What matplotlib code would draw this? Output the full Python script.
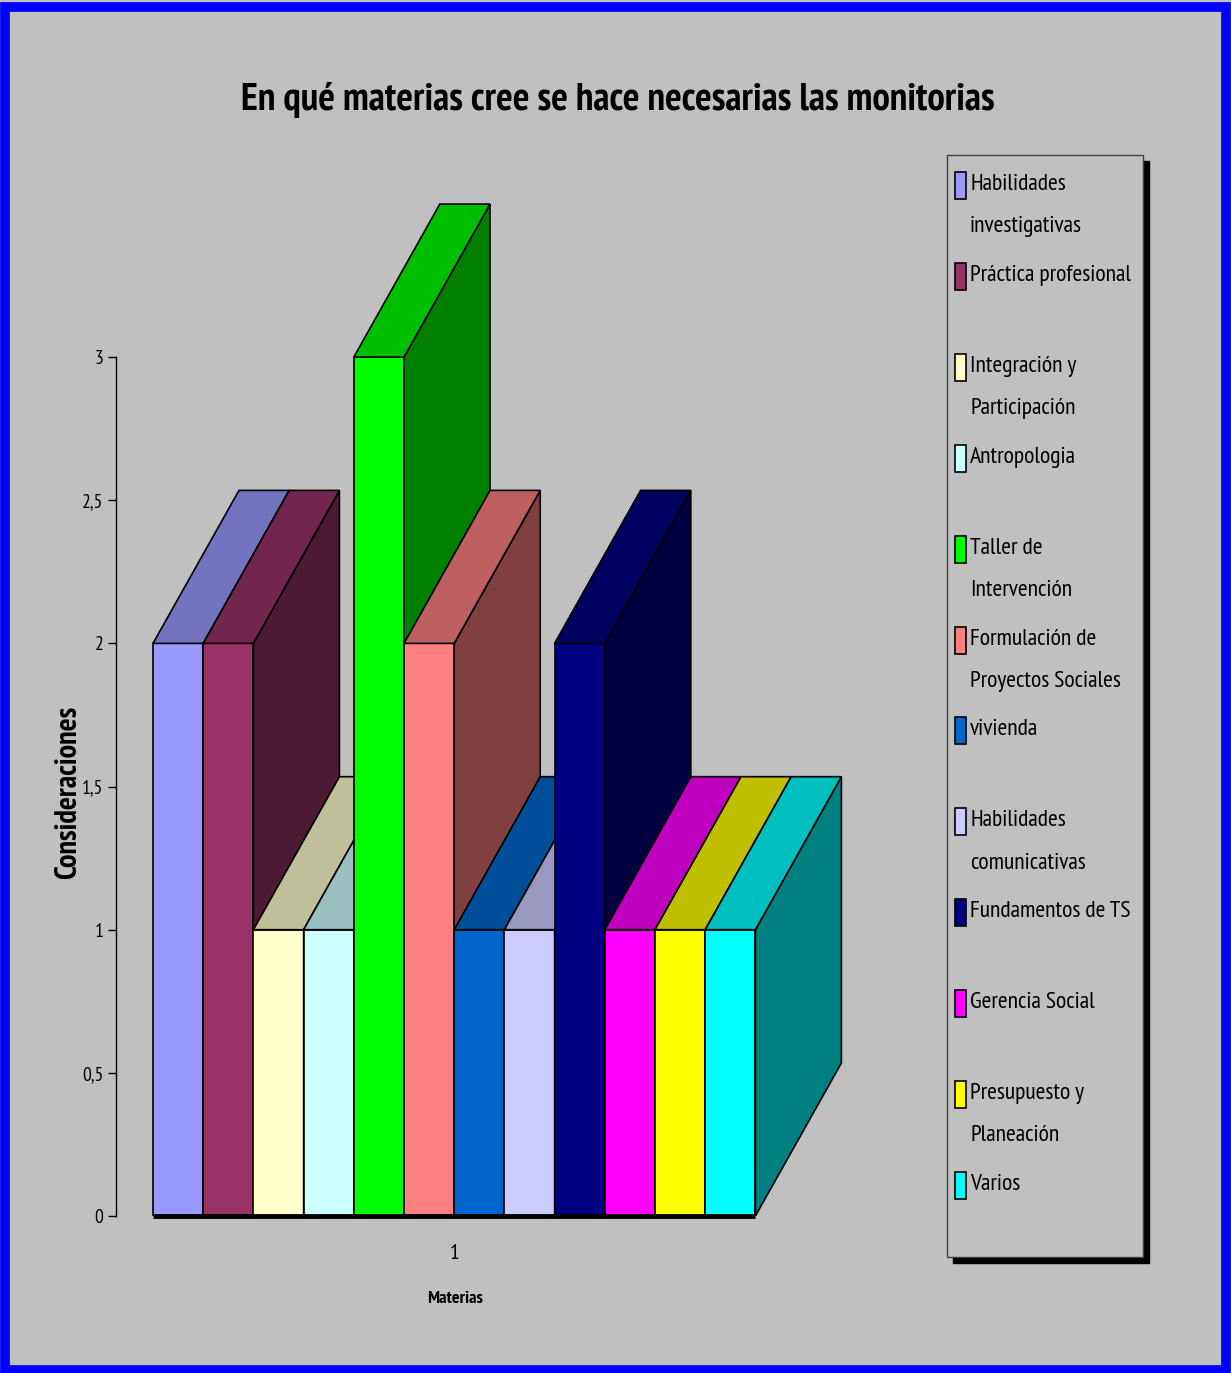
import matplotlib.pyplot as plt
from matplotlib import font_manager
from matplotlib.patches import Polygon, Rectangle
import matplotlib.colors as mcolors

# ---------------------------------------------------
# DATA
# ---------------------------------------------------

materias = [
    "Habilidades\ninvestigativas",
    "Práctica profesional",
    "Integración y\nParticipación",
    "Antropologia",
    "Taller de\nIntervención",
    "Formulación de\nProyectos Sociales",
    "vivienda",
    "Habilidades\ncomunicativas",
    "Fundamentos de TS",
    "Gerencia Social",
    "Presupuesto y\nPlaneación",
    "Varios",
]

valores = [2, 2, 1, 1, 3, 2, 1, 1, 2, 1, 1, 1]

colores = [
    "#9999FF", "#993366", "#FFFFCC", "#CCFFFF",
    "#00FF00", "#FF8080", "#0066CC", "#CCCCFF",
    "#000080", "#FF00FF", "#FFFF00", "#00FFFF",
]

y_ticks = [0, 0.5, 1, 1.5, 2, 2.5, 3]
y_tick_labels = ["0", "0,5", "1", "1,5", "2", "2,5", "3"]

# ---------------------------------------------------
# FONT (narrow face, with a bold weight, if one is available)
# ---------------------------------------------------

faces = {}
for f in font_manager.fontManager.ttflist:
    w = f.weight if isinstance(f.weight, int) else 400
    faces.setdefault(f.name, set()).add(w)

wanted = ["Arial Narrow", "Liberation Sans Narrow", "PT Sans Narrow",
          "Archivo Narrow", "Roboto Condensed", "Open Sans Condensed",
          "IBM Plex Sans Condensed", "Encode Sans Condensed",
          "Liberation Sans"]
with_bold = [n for n in wanted if n in faces and max(faces[n]) >= 700]
any_face = [n for n in wanted if n in faces]
FONT = (with_bold or any_face)[:1] + ["DejaVu Sans"]
plt.rcParams["font.family"] = FONT

# ---------------------------------------------------
# FIGURE
# ---------------------------------------------------

W, H = 1231, 1373
fig = plt.figure(figsize=(W / 100, H / 100), dpi=100)
fig.patch.set_facecolor("#C0C0C0")
renderer = fig.canvas.get_renderer()


def fit_width(t, target_px):
    w = t.get_window_extent(renderer).width
    t.set_fontsize(t.get_fontsize() * target_px / w)
    return t.get_fontsize()


# blue outer frame
fig.patches.append(Rectangle((0.004, 0.002), 0.992, 0.993,
                             transform=fig.transFigure, fill=False,
                             edgecolor="#0000FF", linewidth=7))

# pixel geometry of the plot area
px_unit_y = 286.3      # pixels per value unit
px_bar = 50.2          # pixels per bar
y0_px = 1216           # pixel row of value 0
axis_px = 116          # pixel column of y axis
first_bar_px = 153
depth_x = 86 / px_bar          # depth offset in bar units
depth_y = 153 / px_unit_y      # depth offset in value units

ylim = (0, 3.6)
x_left = -(first_bar_px - axis_px) / px_bar
ax_right_px = 940
xlim = (x_left, x_left + (ax_right_px - axis_px) / px_bar)

bottom_px = y0_px - ylim[0] * px_unit_y
top_px = y0_px - ylim[1] * px_unit_y
ax = fig.add_axes([axis_px / W, 1 - bottom_px / H,
                   (ax_right_px - axis_px) / W, (bottom_px - top_px) / H])
ax.set_facecolor("none")
ax.set_xlim(*xlim)
ax.set_ylim(*ylim)

# ---------------------------------------------------
# 3D STYLE BARS
# ---------------------------------------------------

def shade(c, f):
    r, g, b = mcolors.to_rgb(c)
    return (r * f, g * f, b * f)

for i, (v, c) in enumerate(zip(valores, colores)):
    x0, x1 = i, i + 1
    ax.bar(x0, v, width=1, align="edge", color=c,
           edgecolor="black", linewidth=1.2, zorder=3 + i)
    top = Polygon([(x0, v), (x1, v), (x1 + depth_x, v + depth_y),
                   (x0 + depth_x, v + depth_y)], closed=True,
                  facecolor=shade(c, 0.75), edgecolor="black",
                  linewidth=1.2, zorder=3 + i)
    side = Polygon([(x1, 0), (x1 + depth_x, depth_y),
                    (x1 + depth_x, v + depth_y), (x1, v)], closed=True,
                   facecolor=shade(c, 0.5), edgecolor="black",
                   linewidth=1.2, zorder=3 + i)
    ax.add_patch(side)
    ax.add_patch(top)

ax.hlines(0, 0, len(valores), color="black", linewidth=3.5,
          zorder=40, clip_on=False)

# ---------------------------------------------------
# AXES
# ---------------------------------------------------

for s in ["top", "right", "bottom"]:
    ax.spines[s].set_visible(False)
ax.spines["left"].set_bounds(0, 3)
ax.spines["left"].set_linewidth(1)

ax.set_yticks(y_ticks)
ax.set_yticklabels(y_tick_labels)
ax.tick_params(axis="y", length=6, width=1, pad=3)
fs_tick = fit_width(ax.get_yticklabels()[5], 21)
for t in ax.get_yticklabels():
    t.set_fontsize(fs_tick)

ax.set_xticks([len(valores) / 2])
ax.set_xticklabels(["1"], fontsize=fs_tick * 1.1)
ax.tick_params(axis="x", length=0, pad=20)

ax.set_xlabel("Materias", fontweight="bold")
fit_width(ax.xaxis.label, 56)
ax.xaxis.set_label_coords((455 - axis_px) / (ax_right_px - axis_px),
                          -(1291 - y0_px) / (bottom_px - top_px))

ylab = fig.text(68 / W, 1 - 792 / H, "Consideraciones", rotation=90,
                fontweight="bold", ha="center", va="center")
r_h = ylab.get_window_extent(renderer).height
ylab.set_fontsize(ylab.get_fontsize() * 175 / r_h)

title = fig.text(618 / W, 1 - 100 / H,
                 "En qué materias cree se hace necesarias las monitorias",
                 fontweight="bold", ha="center", va="center")
fit_width(title, 760)

# ---------------------------------------------------
# LEGEND (manual, fixed slots like the original)
# ---------------------------------------------------

lx0, lx1, ly0, ly1 = 947, 1143, 155, 1257
fig.patches.append(Rectangle((lx0 / W + 6 / W, 1 - (ly1 + 6) / H),
                             (lx1 - lx0) / W, (ly1 - ly0) / H,
                             transform=fig.transFigure, facecolor="black",
                             edgecolor="black", zorder=1))
fig.patches.append(Rectangle((lx0 / W, 1 - ly1 / H),
                             (lx1 - lx0) / W, (ly1 - ly0) / H,
                             transform=fig.transFigure, facecolor="#C0C0C0",
                             edgecolor="#404040", linewidth=1, zorder=2))

# font size from the widest single line, line spacing from measured rows
probe = fig.text(0, 0, "Práctica profesional")
fs_leg = fit_width(probe, 162)
probe.set_text("Habilidades")
h1 = probe.get_window_extent(renderer).height
probe.set_text("Habilidades\ninvestigativas")
probe.set_linespacing(1.2)
h2 = probe.get_window_extent(renderer).height
spacing = 1.2 * 47 / (h2 - h1)
probe.remove()

slot = 90.9
for i, (lab, c) in enumerate(zip(materias, colores)):
    yc = 185 + i * slot
    fig.patches.append(Rectangle((955 / W, 1 - (yc + 14) / H),
                                 11 / W, 27 / H, transform=fig.transFigure,
                                 facecolor=c, edgecolor="black",
                                 linewidth=1.2, zorder=3))
    fig.text(970 / W, 1 - (yc - 11) / H, lab, fontsize=fs_leg,
             ha="left", va="top", linespacing=spacing, zorder=4)

fig.savefig("out.png", dpi=100, facecolor=fig.get_facecolor())
